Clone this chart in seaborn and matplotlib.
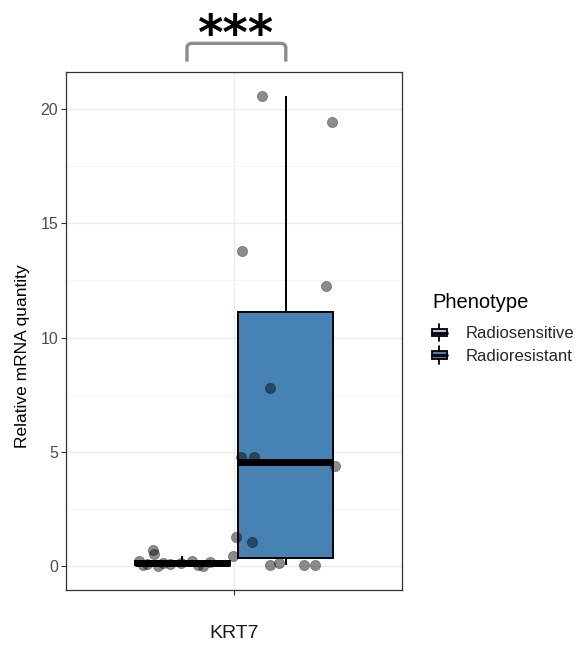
import matplotlib
matplotlib.use("Agg")
import matplotlib.pyplot as plt
import seaborn as sns
import pandas as pd
import numpy as np
from matplotlib.legend_handler import HandlerBase
from matplotlib.patches import Rectangle, Patch, PathPatch
from matplotlib.lines import Line2D
from matplotlib.path import Path

# Relative KRT7 mRNA quantity per sample, by phenotype
gene = "KRT7"
phenotypes = ["Radiosensitive", "Radioresistant"]
sensitive_values = [0.26, 0.05, 0.12, 0.74, 0.55, 0.04, 0.16, 0.09, 0.14, 0.22, 0.07, 0.02, 0.18, 0.44]
sensitive_jitter = [-0.155, -0.14, -0.125, -0.105, -0.10, -0.085, -0.07, -0.045, -0.005, 0.035, 0.055, 0.075, 0.10, 0.18]
resistant_values = [20.57, 19.43, 13.79, 12.25, 7.79, 4.77, 4.77, 4.38, 1.27, 1.05, 0.17, 0.06, 0.08, 0.05]
resistant_jitter = [-0.085, 0.165, -0.155, 0.145, -0.055, -0.16, -0.115, 0.175, -0.178, -0.12, -0.025, -0.055, 0.065, 0.105]
palette = {"Radiosensitive": "#B0C4DE", "Radioresistant": "#4682B4"}
significance = "***"

df = pd.DataFrame({
    "Gene": gene,
    "Phenotype": ["Radiosensitive"] * len(sensitive_values) + ["Radioresistant"] * len(resistant_values),
    "value": sensitive_values + resistant_values,
    "jitter": sensitive_jitter + resistant_jitter,
})

sns.set_theme(style="white")
plt.rcParams["font.family"] = ["Liberation Sans", "DejaVu Sans"]

fig = plt.figure(figsize=(5.81, 6.46), dpi=100)
ax = fig.add_axes([66 / 581, 1 - 590 / 646, 336 / 581, 518 / 646])

box_width = 0.74
sns.boxplot(
    data=df, x="Gene", y="value", hue="Phenotype", hue_order=phenotypes,
    palette=palette, saturation=1, width=box_width, gap=0.08, linecolor="black",
    linewidth=1.4, showfliers=False, showcaps=False, legend=False,
    medianprops={"linewidth": 5.0, "color": "black", "solid_capstyle": "butt"},
    ax=ax, zorder=2,
)

# jittered samples around each dodged box centre
slot = box_width / len(phenotypes)
centers = {p: -box_width / 2 + slot * (i + 0.5) for i, p in enumerate(phenotypes)}
xpos = df["Phenotype"].map(centers) + df["jitter"]
ax.scatter(xpos, df["value"], s=54, facecolor=(0, 0, 0, 0.45),
           edgecolor=(0, 0, 0, 0.35), linewidth=0.6, zorder=3)

# theme_bw-like panel
ax.set_xlim(-0.6, 0.6)
lo, hi = 0.0, max(df["value"])
pad = (hi - lo) * 0.05
ax.set_ylim(lo - pad, hi + pad)
ax.set_yticks([0, 5, 10, 15, 20])
ax.set_yticks([2.5, 7.5, 12.5, 17.5], minor=True)
ax.grid(True, which="major", color="#EBEBEB", linewidth=1.0, zorder=0)
ax.grid(True, which="minor", axis="y", color="#F3F3F3", linewidth=0.6, zorder=0)
ax.set_axisbelow(True)
for s in ax.spines.values():
    s.set_color("#333333")
    s.set_linewidth(0.9)
ax.tick_params(axis="y", which="major", length=3.5, width=0.8, color="#333333",
               labelsize=11.5, labelcolor="#4D4D4D", pad=2, left=True)
ax.tick_params(axis="y", which="minor", length=0)
ax.tick_params(axis="x", length=3.5, width=0.8, color="#333333",
               labelsize=14, labelcolor="#1A1A1A", pad=22, bottom=True)
ax.set_xlabel("")
ax.set_ylabel("Relative mRNA quantity", fontsize=12.5, color="black")
ax.yaxis.set_label_coords(-0.107, 0.452)

# significance bracket between the two boxes
xl, xr = centers["Radiosensitive"], centers["Radioresistant"]
ytop, ybot = 22.85, 22.05
rx, ry = 0.02, 0.2
inset = 0.017
verts = [(xl + inset, ybot), (xl + inset, ytop - ry), (xl + inset, ytop), (xl + inset + rx, ytop),
         (xr - rx, ytop), (xr, ytop), (xr, ytop - ry), (xr, ybot)]
codes = [Path.MOVETO, Path.LINETO, Path.CURVE3, Path.CURVE3,
         Path.LINETO, Path.CURVE3, Path.CURVE3, Path.LINETO]
ax.add_patch(PathPatch(Path(verts, codes), facecolor="none", edgecolor="#8C8C8C",
                       linewidth=2.4, clip_on=False, capstyle="butt"))
ax.text((xl + xr) / 2 + 0.008, 22.58, significance, ha="center", va="baseline",
        fontsize=35, fontweight="bold", color="black", clip_on=False,
        family="DejaVu Sans")


class BoxKey(HandlerBase):
    def create_artists(self, legend, orig_handle, xdescent, ydescent, width, height, fontsize, trans):
        x0, y0 = -xdescent, -ydescent
        fc = orig_handle.get_facecolor()
        cx = x0 + width / 2
        whisk = Line2D([cx, cx], [y0, y0 + height], color="black", lw=1.3, transform=trans)
        box = Rectangle((x0 + width * 0.06, y0 + height * 0.27), width * 0.88, height * 0.46,
                        facecolor=fc, edgecolor="black", lw=1.3, transform=trans)
        med = Line2D([x0 + width * 0.06, x0 + width * 0.94], [y0 + height / 2] * 2,
                     color="black", lw=2.0, transform=trans)
        return [whisk, box, med]


fig.text(432 / 581, 1 - 308 / 646, "Phenotype", ha="left", va="baseline",
         fontsize=14.5, color="black")
handles = [Patch(facecolor=palette[p], label=p) for p in phenotypes]
leg = fig.legend(handles=handles, labels=phenotypes,
                 loc="upper left", bbox_to_anchor=(431 / 581, 1 - 324 / 646),
                 frameon=False, fontsize=12,
                 handler_map={Patch: BoxKey()}, handlelength=1.0, handleheight=1.2,
                 handletextpad=1.05, labelspacing=0.32, borderpad=0.0,
                 borderaxespad=0)

fig.savefig("out.png", dpi=100)
